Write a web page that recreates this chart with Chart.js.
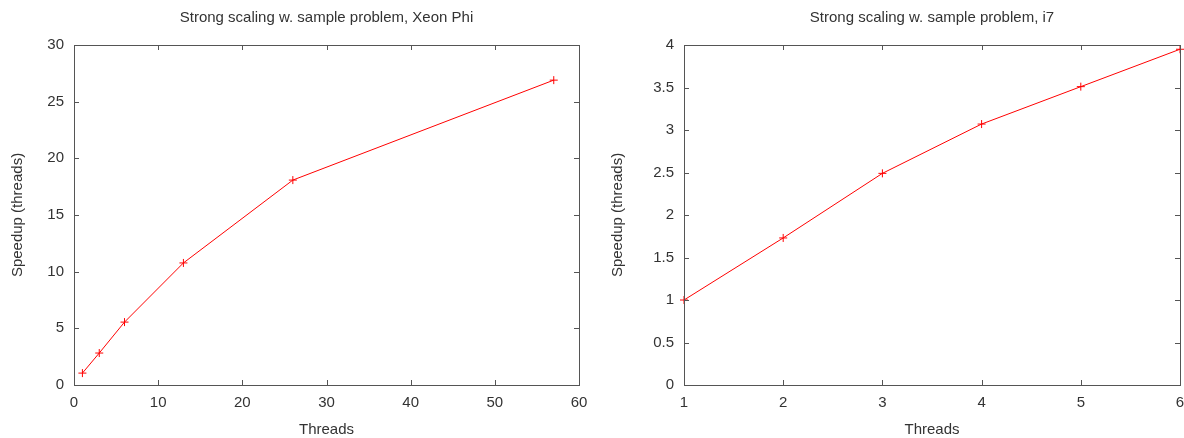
<!DOCTYPE html>
<html>
<head>
<meta charset="utf-8">
<script src="https://cdn.jsdelivr.net/npm/chart.js@4"></script>
<style>
  html, body { margin: 0; padding: 0; background: #fff; }
  .panel { position: absolute; top: 0; width: 592px; height: 438px; }
</style>
</head>
<body>
<div class="panel" style="left:0"><canvas id="phiChart" width="592" height="438"></canvas></div>
<div class="panel" style="left:592px"><canvas id="i7Chart" width="592" height="438"></canvas></div>
<script>
// Xeon Phi
var phiThreads = [1, 3, 6, 13, 26, 57];
var phiSpeedup = [1.05, 2.82, 5.55, 10.77, 18.08, 26.9];
// i7
var i7Threads = [1, 2, 3, 4, 5, 6];
var i7Speedup = [1.0, 1.73, 2.49, 3.07, 3.51, 3.95];

var textColor = "#333";
var axisColor = "#555";
var fontFamily = "'Liberation Sans', Arial, sans-serif";
var fontSize = 15;

// gnuplot-ish frame: border on four sides, ticks pointing inward, title over plot area
var framePlugin = {
	id: "frame",
	afterDraw: function(chart) {
		var ctx = chart.ctx;
		var a = chart.chartArea;
		var x = chart.scales.x, y = chart.scales.y;
		var t = 5;
		ctx.save();
		ctx.strokeStyle = axisColor;
		ctx.lineWidth = 1;
		ctx.strokeRect(Math.round(a.left) + 0.5, Math.round(a.top) + 0.5,
			Math.round(a.right - a.left), Math.round(a.bottom - a.top));
		ctx.beginPath();
		x.ticks.forEach(function(tk) {
			var px = Math.round(x.getPixelForValue(tk.value)) + 0.5;
			ctx.moveTo(px, a.bottom); ctx.lineTo(px, a.bottom - t);
			ctx.moveTo(px, a.top); ctx.lineTo(px, a.top + t);
		});
		y.ticks.forEach(function(tk) {
			var py = Math.round(y.getPixelForValue(tk.value)) + 0.5;
			ctx.moveTo(a.left, py); ctx.lineTo(a.left + t, py);
			ctx.moveTo(a.right, py); ctx.lineTo(a.right - t, py);
		});
		ctx.stroke();
		ctx.fillStyle = textColor;
		ctx.font = fontSize + "px " + fontFamily;
		ctx.textAlign = "center";
		ctx.textBaseline = "middle";
		ctx.fillText(chart.options.frameTitle, (a.left + a.right) / 2, 18);
		ctx.restore();
	}
};

function makeChart(id, title, xs, ys, xopts, yopts, yWidth, yTitlePad, padRight) {
	var points = [];
	for (var i in xs) {
		points.push({x: xs[i], y: ys[i]});
	}
	var font = { size: fontSize, family: fontFamily };
	return new Chart(document.getElementById(id), {
		type: "scatter",
		data: {
			datasets: [{
				data: points,
				showLine: true,
				borderColor: "#ff0000",
				backgroundColor: "#ff0000",
				borderWidth: 1,
				pointStyle: "cross",
				pointRadius: 4,
				pointBorderWidth: 1,
				clip: false
			}]
		},
		options: {
			responsive: false,
			animation: false,
			frameTitle: title,
			layout: { autoPadding: false, padding: { top: 45, right: padRight, left: 0, bottom: 0 } },
			plugins: { legend: { display: false }, tooltip: { enabled: false } },
			scales: {
				x: {
					type: "linear",
					min: xopts.min, max: xopts.max,
					grid: { display: false, drawTicks: false },
					border: { display: false },
					ticks: { stepSize: xopts.step, color: textColor, padding: 9, font: font },
					title: { display: true, text: "Threads", color: textColor, font: font, padding: { top: 4, bottom: -1 } },
					afterFit: function(s) { s.height = 53; s.paddingLeft = 0; s.paddingRight = 0; }
				},
				y: {
					min: yopts.min, max: yopts.max,
					grid: { display: false, drawTicks: false },
					border: { display: false },
					ticks: {
						stepSize: yopts.step, color: textColor, padding: 10, font: font,
						callback: function(v) { return String(+v.toFixed(2)); }
					},
					title: { display: true, text: "Speedup (threads)", color: textColor, font: font, padding: { top: yTitlePad, bottom: 0 } },
					afterFit: function(s) { s.width = yWidth; s.paddingTop = 0; s.paddingBottom = 0; }
				}
			}
		},
		plugins: [framePlugin]
	});
}

makeChart("phiChart", "Strong scaling w. sample problem, Xeon Phi", phiThreads, phiSpeedup,
	{min: 0, max: 60, step: 10}, {min: 0, max: 30, step: 5}, 74, 9, 13);
makeChart("i7Chart", "Strong scaling w. sample problem, i7", i7Threads, i7Speedup,
	{min: 1, max: 6, step: 1}, {min: 0, max: 4, step: 0.5}, 92, 17, 4);
</script>
</body>
</html>
